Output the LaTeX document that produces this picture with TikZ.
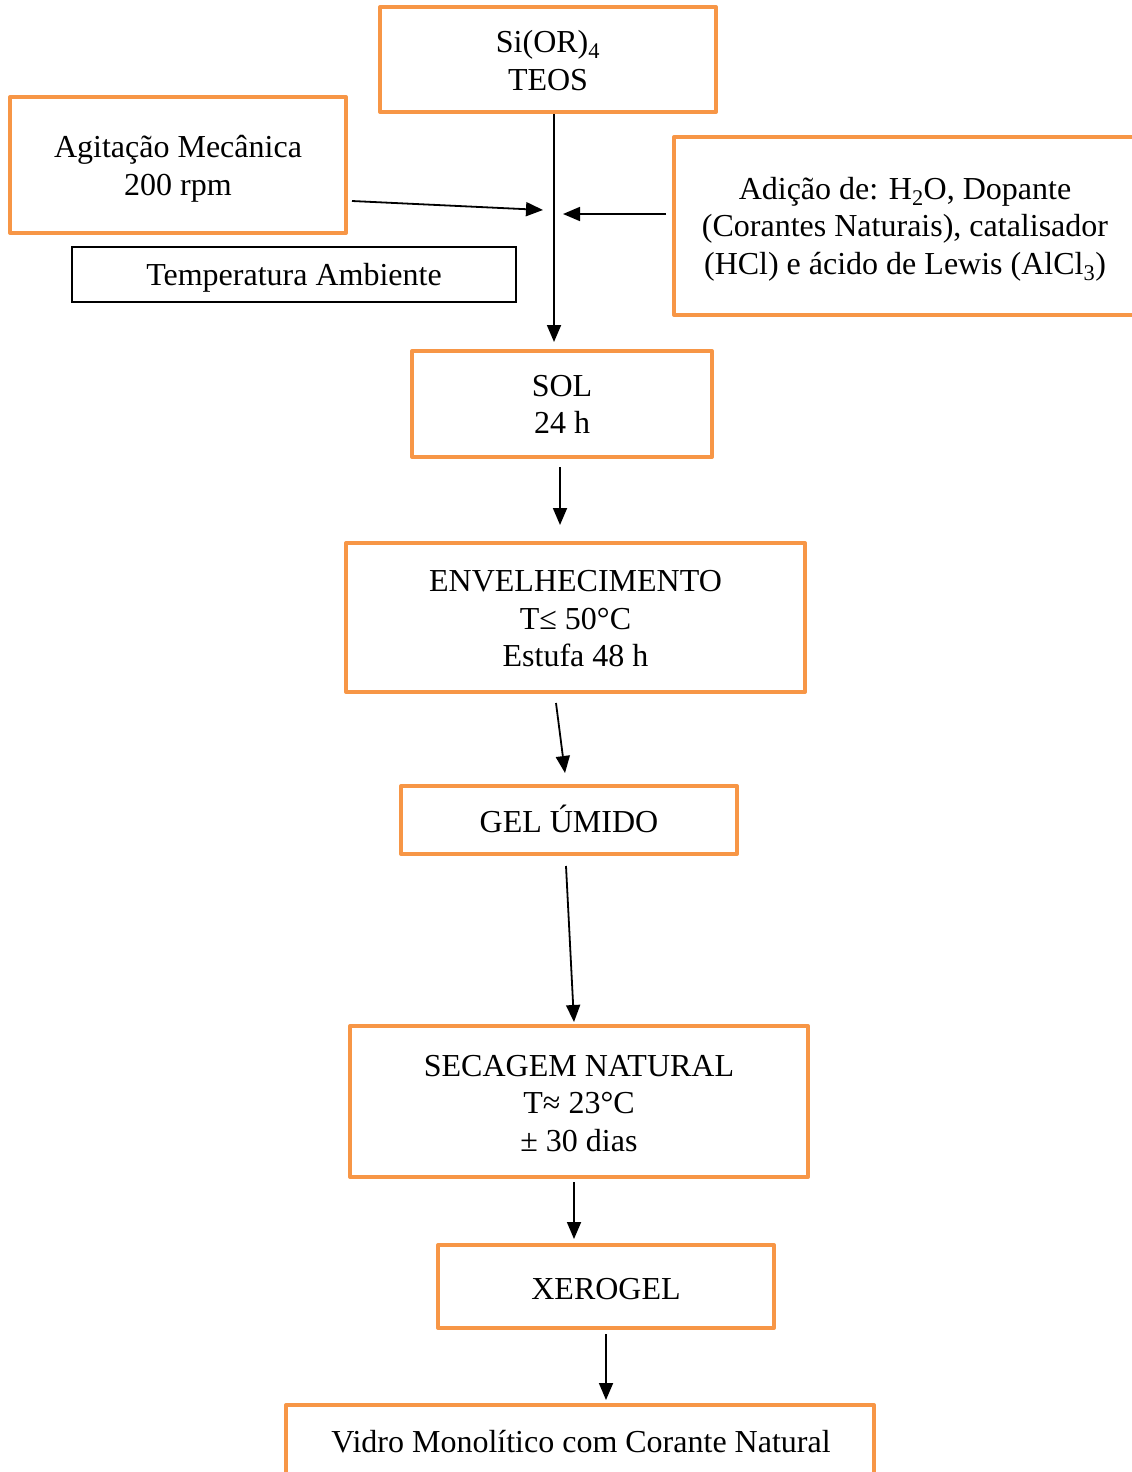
\documentclass[tikz,border=0pt]{standalone}
\usepackage{fontspec}
\setmainfont{Liberation Serif}
\usetikzlibrary{arrows.meta,calc}
\definecolor{boxorange}{RGB}{247,150,70}
\begin{document}
\begin{tikzpicture}[x=1pt,y=-1pt,
  box/.style={draw=boxorange, line width=4pt, line join=round, inner sep=0pt},
  thinbox/.style={draw=black, line width=1.2pt, inner sep=0pt},
  txt/.style={font=\fontsize{32}{37.5}\selectfont, align=center, inner sep=0pt},
  arr/.style={draw=black, line width=1.8pt, -{Triangle[length=17pt,width=14pt]}}]
\useasboundingbox (0,0) rectangle (1132,1472);
% frames
\node[box, minimum width=336pt, minimum height=105pt] (teos) at (548,59.5) {};
\node[box, minimum width=336pt, minimum height=136pt] (agit) at (178,165) {};
\node[thinbox, minimum width=444pt, minimum height=55pt] (temp) at (294,274.5) {};
\node[box, minimum width=468pt, minimum height=178pt] (adic) at (908,226) {};
\node[box, minimum width=300pt, minimum height=106pt] (sol) at (562,404) {};
\node[box, minimum width=459pt, minimum height=149pt] (env) at (575.5,617.5) {};
\node[box, minimum width=336pt, minimum height=68pt] (gel) at (569,820) {};
\node[box, minimum width=458pt, minimum height=151pt] (sec) at (579,1101.5) {};
\node[box, minimum width=336pt, minimum height=83pt] (xer) at (606,1286.5) {};
\node[box, minimum width=588pt, minimum height=90pt, anchor=north] (vid) at (580,1403) {};
% texts
\node[txt] (teostxt) at ($(teos)+(0,1)$) {Si(OR)\textsubscript{4}\\TEOS};
\node[txt] (agittxt) at ($(agit)+(0,4)$) {Agitação Mecânica\\200 rpm};
\node[txt] (temptxt) at ($(temp)+(0,3.5)$) {Temperatura Ambiente};
\node[txt] (adictxt) at (905,229) {Adição de: H\textsubscript{2}O, Dopante\\(Corantes Naturais), catalisador\\(HCl) e ácido de Lewis (AlCl\textsubscript{3})};
\node[txt] (soltxt) at ($(sol)+(0,0.5)$) {SOL\\24 h};
\node[txt] (envtxt) at ($(env)+(0,1.5)$) {ENVELHECIMENTO\\T≤ 50°C\\Estufa 48 h};
\node[txt] (geltxt) at ($(gel)+(0,-1)$) {GEL ÚMIDO};
\node[txt] (sectxt) at ($(sec)+(0,2)$) {SECAGEM NATURAL\\T≈ 23°C\\± 30 dias};
\node[txt] (xertxt) at ($(xer)+(0,3)$) {XEROGEL};
\node[txt] (vidtxt) at (581,1442) {Vidro Monolítico com Corante Natural};
% connectors
\coordinate (join) at (554,342);
\draw[arr] (teos.south -| join) -- (join);
\coordinate (agitend) at (543,210);
\draw[arr] ($(agit.east |- 0,201)+(4,0)$) -- (agitend);
\coordinate (adicend) at (563,214);
\draw[arr] ($(adic.west |- adicend)+(-6,0)$) -- (adicend);
\draw[arr] ($(sol.south)+(-2,8)$) -- ($(env.north)+(-15.5,-16)$);
\draw[arr] ($(env.south)+(-19.5,9)$) -- ($(gel.north)+(-4,-11)$);
\draw[arr] ($(gel.south)+(-3,10)$) -- ($(sec.north)+(-5,-2)$);
\draw[arr] ($(sec.south)+(-5,3)$) -- ($(xer.north)+(-32,-4)$);
\draw[arr] ($(xer.south)+(0,4)$) -- ($(vid.north)+(26,-3)$);
\end{tikzpicture}
\end{document}
